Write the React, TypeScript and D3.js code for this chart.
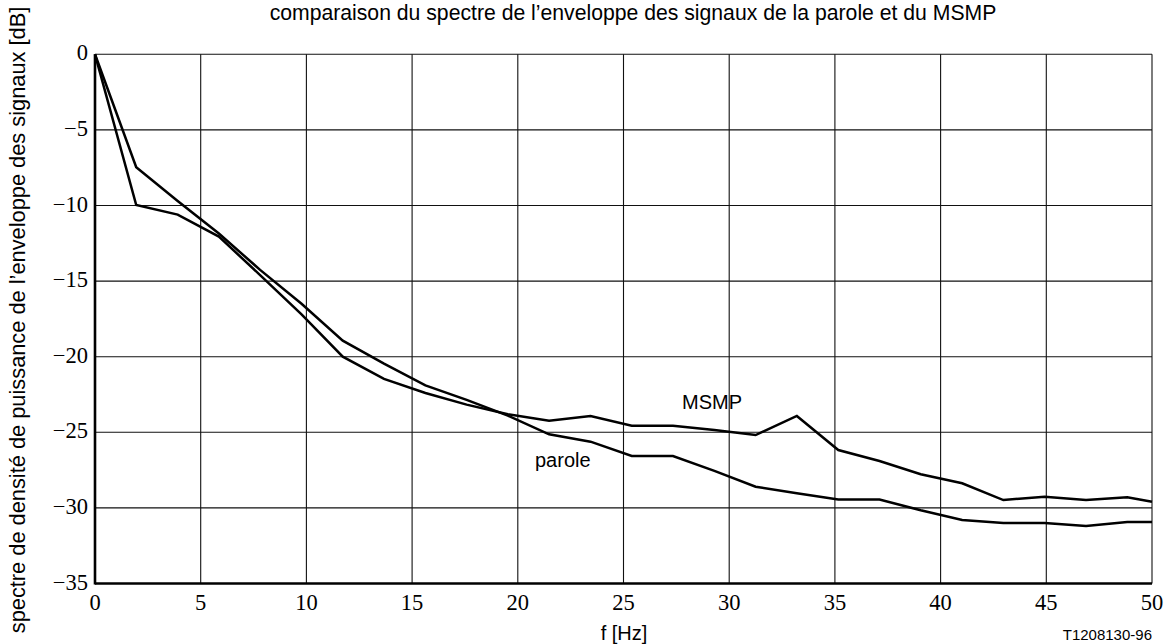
import React from "react";
import * as d3 from "d3";

const freqs = [0, 1.95, 3.91, 5.86, 7.81, 9.77, 11.72, 13.67, 15.63, 17.58, 19.53, 21.48, 23.44, 25.39, 27.34, 29.3, 31.25, 33.2, 35.16, 37.11, 39.06, 41.02, 42.97, 44.92, 46.88, 48.83, 50];
const parole = [0, -7.47, -9.7, -11.85, -14.26, -16.5, -18.94, -20.46, -21.9, -22.86, -23.9, -25.13, -25.62, -26.57, -26.57, -27.55, -28.6, -29.03, -29.45, -29.45, -30.16, -30.8, -31.0, -31.0, -31.2, -30.93, -30.93];
const msmp = [0, -9.97, -10.6, -12.06, -14.6, -17.2, -20.0, -21.47, -22.4, -23.17, -23.8, -24.23, -23.92, -24.56, -24.56, -24.85, -25.18, -23.92, -26.17, -26.9, -27.77, -28.37, -29.48, -29.26, -29.48, -29.3, -29.59];
const xTicks = [0, 5, 10, 15, 20, 25, 30, 35, 40, 45, 50];
const yTicks = [0, -5, -10, -15, -20, -25, -30, -35];

const title = "comparaison du spectre de l\u2019enveloppe des signaux de la parole et du MSMP";
const yLabel = "spectre de densit\u00e9 de puissance de l\u2019enveloppe des signaux [dB]";
const xLabel = "f [Hz]";
const code = "T1208130-96";

export default function App() {
  const W = 1168, H = 644;
  const x = d3.scaleLinear().domain([0, 50]).range([95, 1152]);
  const y = d3.scaleLinear().domain([-35, 0]).range([583.5, 54.3]);
  const fmt = d3.format("");
  const line = d3.line<number>().x((_, i) => x(freqs[i])).y((d) => y(d));
  const sans = "Liberation Sans, Arial, Helvetica, sans-serif";
  const serif = "Liberation Serif, Times New Roman, serif";
  return (
    <svg width={W} height={H} style={{ position: "absolute", left: 0, top: 0, background: "#fff" }}>
      <rect width={W} height={H} fill="#fff" />
      {xTicks.filter((t) => t !== 0).map((t) => (
        <line key={"vx" + t} x1={x(t)} x2={x(t)} y1={y(0)} y2={y(-35)} stroke="#111" strokeWidth={1.1} />
      ))}
      {yTicks.filter((t) => t !== -35).map((t) => (
        <line key={"hy" + t} x1={x(0)} x2={x(50)} y1={y(t)} y2={y(t)} stroke="#111" strokeWidth={1.1} />
      ))}
      <line x1={x(0)} x2={x(0)} y1={y(0)} y2={y(-35) + 1} stroke="#000" strokeWidth={2.6} />
      <line x1={x(0)} x2={x(50)} y1={y(-35)} y2={y(-35)} stroke="#000" strokeWidth={2.6} />
      <path d={line(msmp) || ""} fill="none" stroke="#000" strokeWidth={2.5} strokeLinejoin="miter" />
      <path d={line(parole) || ""} fill="none" stroke="#000" strokeWidth={2.5} strokeLinejoin="miter" />
      {yTicks.map((t) => (
        <text key={"ty" + t} x={88} y={y(t) + 6} textAnchor="end" fontSize={22.5} fill="#000" fontFamily={serif}>{fmt(t)}</text>
      ))}
      {xTicks.map((t) => (
        <text key={"tx" + t} x={x(t)} y={610} textAnchor="middle" fontSize={22.5} fill="#000" fontFamily={serif}>{fmt(t)}</text>
      ))}
      <g fontFamily={sans}>
        <text x={633} y={20} textAnchor="middle" fontSize={21.2} fill="#000">{title}</text>
        <text transform={`translate(25,${320}) rotate(-90)`} textAnchor="middle" fontSize={21.8} fill="#000">{yLabel}</text>
        <text x={624} y={640} textAnchor="middle" fontSize={20} fill="#000">{xLabel}</text>
        <text x={1152} y={640} textAnchor="end" fontSize={15} fill="#000">{code}</text>
        <text x={682} y={409} fontSize={20} fill="#000">MSMP</text>
        <text x={535} y={467} fontSize={20} fill="#000">parole</text>
      </g>
    </svg>
  );
}
